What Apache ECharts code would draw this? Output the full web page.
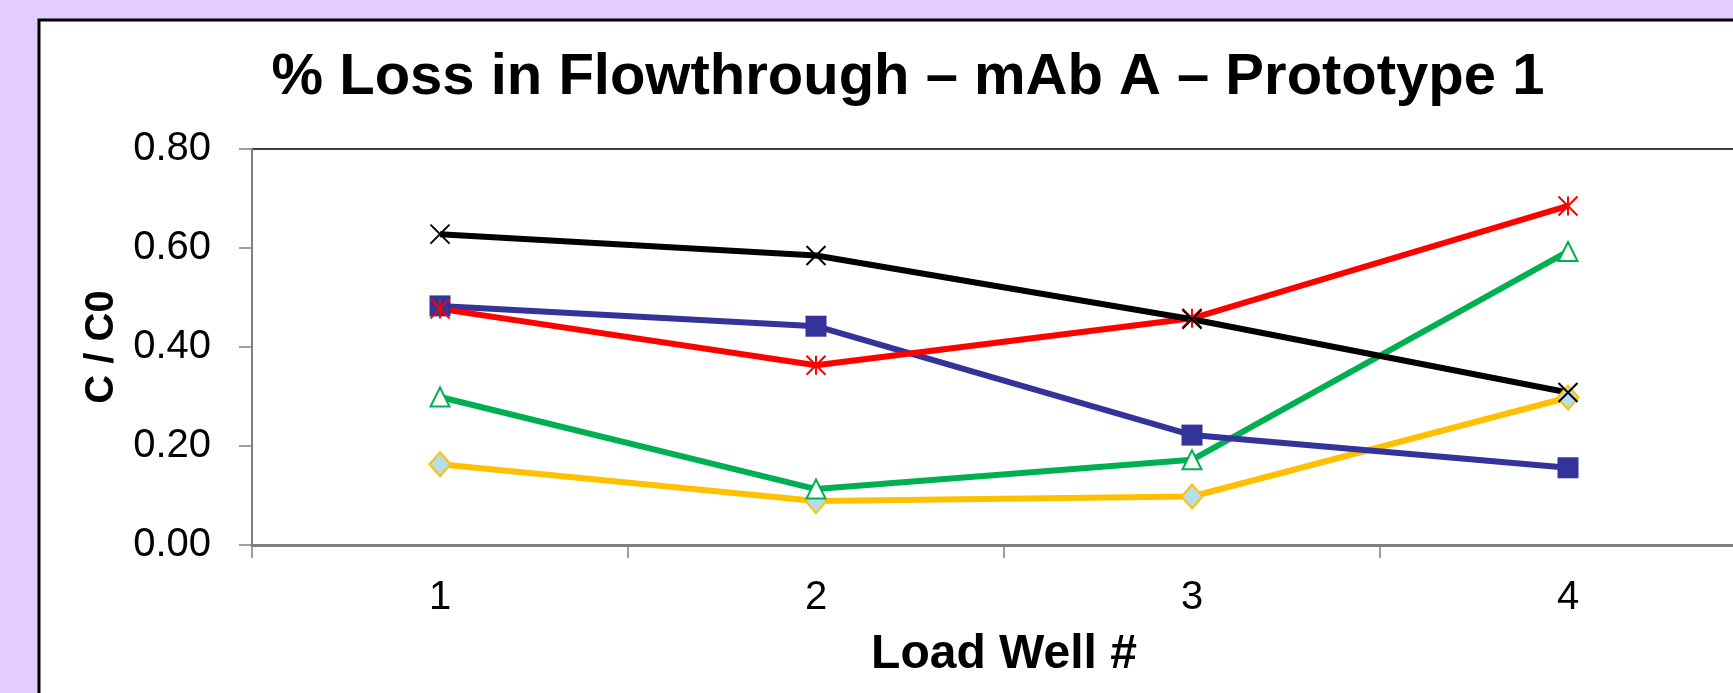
<!DOCTYPE html>
<html>
<head>
<meta charset="utf-8">
<script src="https://cdn.jsdelivr.net/npm/echarts@6/dist/echarts.min.js"></script>
<style>
  html, body { margin: 0; padding: 0; background: #E3CCFF; overflow: hidden; }
  #chart { width: 1764px; height: 693px; }
</style>
</head>
<body>
<div id="chart"></div>
<script>
const categories = ['1', '2', '3', '4'];
const yTicks = [0, 0.2, 0.4, 0.6, 0.8];
const blackX = [0.628, 0.585, 0.456, 0.308];
const blueSquare = [0.483, 0.442, 0.222, 0.156];
const redStar = [0.477, 0.363, 0.458, 0.685];
const greenTriangle = [0.299, 0.113, 0.172, 0.593];
const orangeDiamond = [0.163, 0.089, 0.098, 0.298];

const FONT = "'Liberation Sans', Arial, sans-serif";
const chart = echarts.init(document.getElementById('chart'), null, { renderer: 'canvas' });

function series(data, lineColor, symbol, size, itemStyle) {
  return {
    type: 'line',
    data: data,
    symbol: symbol,
    symbolSize: size,
    showSymbol: true,
    lineStyle: { color: lineColor, width: 6 },
    itemStyle: itemStyle,
    emphasis: { disabled: true },
    animation: false,
    z: 3
  };
}

const xPath = 'path://M0,0L10,10M10,0L0,10';
const starPath = 'path://M0,0L10,10M10,0L0,10M5,0L5,10';

chart.setOption({
  backgroundColor: '#E3CCFF',
  animation: false,
  graphic: [
    { type: 'rect', shape: { x: 39, y: 20, width: 1760, height: 720 },
      style: { fill: '#FFFFFF', stroke: '#000000', lineWidth: 3 }, z: -10 }
  ],
  title: {
    text: '% Loss in Flowthrough \u2013 mAb A \u2013 Prototype 1',
    left: 903, top: 44, textAlign: 'center',
    textStyle: { fontFamily: FONT, fontWeight: 'bold', fontSize: 58, color: '#000' }
  },
  grid: { left: 252, top: 149, width: 1504, height: 396,
    show: true, borderColor: '#000', borderWidth: 1.5, backgroundColor: 'transparent' },
  xAxis: {
    type: 'category',
    data: categories,
    boundaryGap: true,
    name: 'Load Well #',
    nameLocation: 'middle',
    nameGap: 86,
    nameTextStyle: { fontFamily: FONT, fontWeight: 'bold', fontSize: 48, color: '#000' },
    axisLine: { show: true, lineStyle: { color: '#808080', width: 3 } },
    axisTick: { show: true, length: 13, lineStyle: { color: '#808080', width: 1.5 } },
    axisLabel: { fontFamily: FONT, fontSize: 40, color: '#000', margin: 33 },
    splitLine: { show: false }
  },
  yAxis: {
    type: 'value',
    min: yTicks[0], max: yTicks[yTicks.length - 1], interval: 0.2,
    name: 'C / C0',
    nameLocation: 'middle',
    nameGap: 111,
    nameRotate: 90,
    nameTextStyle: { fontFamily: FONT, fontWeight: 'bold', fontSize: 40, color: '#000' },
    axisLine: { show: true, lineStyle: { color: '#808080', width: 2 } },
    axisTick: { show: true, inside: false, length: 13, lineStyle: { color: '#808080', width: 1.5 } },
    axisLabel: { fontFamily: FONT, fontSize: 40, color: '#000', margin: 41,
      formatter: v => v.toFixed(2) },
    splitLine: { show: false }
  },
  series: [
    series(orangeDiamond, '#FFC000', 'diamond', [21, 24],
      { color: '#B7DEE8', borderColor: '#FFC000', borderWidth: 2 }),
    series(greenTriangle, '#00B050', 'triangle', [19, 19],
      { color: '#FFFFFF', borderColor: '#00B050', borderWidth: 2 }),
    series(blueSquare, '#333399', 'rect', [21, 21],
      { color: '#333399', borderColor: '#333399', borderWidth: 0 }),
    series(redStar, '#FF0000', starPath, [19, 19],
      { color: 'none', borderColor: '#FF0000', borderWidth: 2 }),
    series(blackX, '#000000', xPath, [19, 19],
      { color: 'none', borderColor: '#000000', borderWidth: 2 })
  ]
});
</script>
</body>
</html>
